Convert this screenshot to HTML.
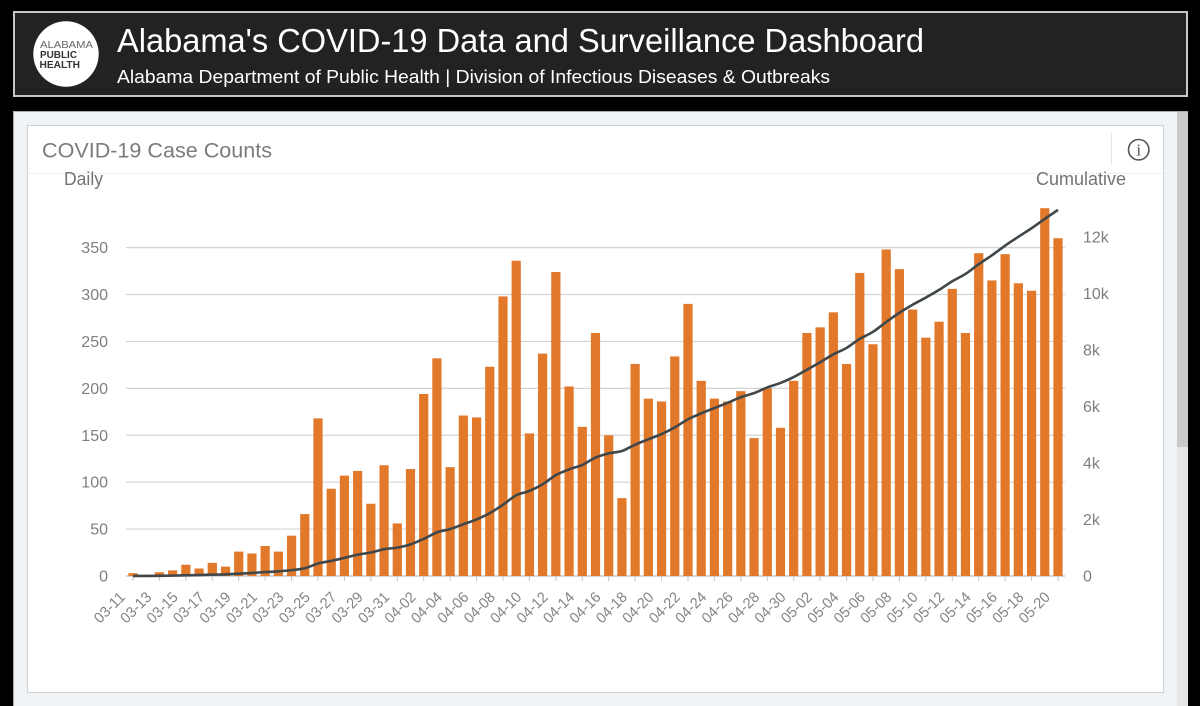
<!DOCTYPE html>
<html lang="en">
<head>
<meta charset="utf-8">
<title>Alabama's COVID-19 Data and Surveillance Dashboard</title>
<style>
html,body{margin:0;padding:0;background:#000;width:1200px;height:706px;overflow:hidden;font-family:"Liberation Sans",sans-serif}
.abs{position:absolute;box-sizing:border-box}
svg text{font-family:"Liberation Sans",sans-serif}
</style>
</head>
<body>
<div class="abs" style="left:13px;top:11px;width:1175px;height:86px;background:#222;border:2px solid #c4c8c8"></div>
<div class="abs" style="left:13px;top:111px;width:1175px;height:595px;background:#eff3f6;border-top:1px solid #aaa;border-left:1px solid #aaa"></div>
<div class="abs" style="left:1177px;top:112px;width:11px;height:594px;background:#e6e6e6"></div>
<div class="abs" style="left:1177px;top:112px;width:11px;height:335px;background:#c9c9c9"></div>
<div class="abs" style="left:27px;top:125px;width:1137px;height:568px;background:#fff;border:1px solid #ccd0d2"></div>
<div class="abs" style="left:28px;top:173px;width:1135px;height:1px;background:#eef0f1"></div>
<div class="abs" style="left:1111px;top:133px;width:1px;height:32px;background:#e6e6e6"></div>

<svg id="chart" class="abs" style="left:0;top:0" width="1200" height="706" viewBox="0 0 1200 706" xmlns="http://www.w3.org/2000/svg">
  <g>
    <circle cx="66" cy="54" r="32.7" fill="#fff"/>
    <text x="40" y="48" font-size="10.5" fill="#666" textLength="53" lengthAdjust="spacingAndGlyphs">ALABAMA</text>
    <text x="40" y="58" font-size="10.5" font-weight="700" fill="#333" textLength="37" lengthAdjust="spacingAndGlyphs">PUBLIC</text>
    <text x="39.5" y="68" font-size="10.5" font-weight="700" fill="#333" textLength="40.5" lengthAdjust="spacingAndGlyphs">HEALTH</text>
  </g>
  <text x="117" y="52" font-size="33" fill="#fff" textLength="807" lengthAdjust="spacingAndGlyphs">Alabama's COVID-19 Data and Surveillance Dashboard</text>
  <text x="117" y="83" font-size="18.5" fill="#fff" textLength="713" lengthAdjust="spacingAndGlyphs">Alabama Department of Public Health | Division of Infectious Diseases &amp; Outbreaks</text>
  <text x="42" y="157.5" font-size="21.5" fill="#7c7c7c" textLength="230" lengthAdjust="spacingAndGlyphs">COVID-19 Case Counts</text>
  <g>
    <circle cx="1138.7" cy="149.7" r="10.2" fill="none" stroke="#555" stroke-width="1.6"/>
    <text x="1138.7" y="155.5" font-size="17" fill="#555" text-anchor="middle" style="font-family:'Liberation Serif',serif">i</text>
  </g>
  <text x="64" y="185" font-size="18" fill="#737373" textLength="39" lengthAdjust="spacingAndGlyphs">Daily</text>
  <text x="1036" y="185" font-size="18" fill="#737373" textLength="90" lengthAdjust="spacingAndGlyphs">Cumulative</text>
  <g id="grid"></g>
  <g id="bars"></g>
  <g id="axis"></g>
  <g id="line"></g>
</svg>

<script>
const dates = ["03-11","03-12","03-13","03-14","03-15","03-16","03-17","03-18","03-19","03-20","03-21","03-22","03-23","03-24","03-25","03-26","03-27","03-28","03-29","03-30","03-31","04-01","04-02","04-03","04-04","04-05","04-06","04-07","04-08","04-09","04-10","04-11","04-12","04-13","04-14","04-15","04-16","04-17","04-18","04-19","04-20","04-21","04-22","04-23","04-24","04-25","04-26","04-27","04-28","04-29","04-30","05-01","05-02","05-03","05-04","05-05","05-06","05-07","05-08","05-09","05-10","05-11","05-12","05-13","05-14","05-15","05-16","05-17","05-18","05-19","05-20"];
const dailyCases = [3,0,4,6,12,8,14,10,26,24,32,26,43,66,168,93,107,112,77,118,56,114,194,232,116,171,169,223,298,336,152,237,324,202,159,259,150,83,226,189,186,234,290,208,189,186,197,147,200,158,208,259,265,281,226,323,247,348,327,284,254,271,306,259,344,315,343,312,304,392,360];
const cumulativeCases = [3,3,7,13,25,33,47,57,83,107,139,165,208,274,442,535,642,754,831,949,1005,1119,1313,1545,1661,1832,2001,2224,2522,2858,3010,3247,3571,3773,3932,4191,4341,4424,4650,4839,5025,5259,5549,5757,5946,6132,6329,6476,6676,6834,7042,7301,7566,7847,8073,8396,8643,8991,9318,9602,9856,10127,10433,10692,11036,11351,11694,12006,12310,12640,12960];
const leftTicks = [0,50,100,150,200,250,300,350];
const rightTicks = [0,2000,4000,6000,8000,10000,12000];
const rightTickLabels = ["0","2k","4k","6k","8k","10k","12k"];

const SVGNS = "http://www.w3.org/2000/svg";
const baseY = 576, firstX = 133, stepX = 13.214;
function xScale(i){ return firstX + i * stepX; }
function yLeft(v){ return baseY - v * (328.4 / 350); }
function yRight(v){ return baseY - v * (56.5 / 2000); }
function mk(tag, parent, attrs){
  const el = document.createElementNS(SVGNS, tag);
  for (const k in attrs) el.setAttribute(k, attrs[k]);
  parent.appendChild(el);
  return el;
}
const gridG = document.getElementById("grid");
const barsG = document.getElementById("bars");
const axisG = document.getElementById("axis");
const lineG = document.getElementById("line");

leftTicks.forEach(function(v){
  const y = yLeft(v);
  const gl = mk("line", gridG, {x1:126, x2:1065, y1:y, y2:y, stroke: v === 0 ? "#bdbdbd" : "#d4d4d4", "stroke-width":1.2});
  
  
  const t = mk("text", gridG, {x:108, y:y + 5.5, "font-size":16, fill:"#7e7e7e", "text-anchor":"end"});
  t.textContent = String(v);
  
  
});
rightTicks.forEach(function(v, i){
  const t = mk("text", gridG, {x:1083, y:yRight(v) + 5.5, "font-size":16, fill:"#7e7e7e"});
  t.textContent = rightTickLabels[i];
  
  
});
dailyCases.forEach(function(v, i){
  const y = yLeft(v);
  const b = mk("rect", barsG, {x:xScale(i) - 4.6, y:y, width:9.2, height:baseY - y, fill:"#e2782a"});
  
  
});
dates.forEach(function(d, i){
  if (i % 2 !== 0) return;
  const x = xScale(i);
  const tk = mk("line", axisG, {x1:x, x2:x, y1:baseY, y2:baseY + 5, stroke:"#c4c4c4", "stroke-width":1});
  
  
  const lx = x - 7;
  const t = mk("text", axisG, {x:lx, y:598, "font-size":15, fill:"#848484", "text-anchor":"end", transform:"rotate(-45 " + lx + " 598)", textLength:37, lengthAdjust:"spacingAndGlyphs"});
  t.textContent = d;
  
  
});
const pts = cumulativeCases.map(function(v, i){ return [xScale(i), yRight(v)]; });
let path = "M" + pts[0][0] + " " + pts[0][1];
for (let i = 0; i < pts.length - 1; i++){
  const p0 = pts[Math.max(i - 1, 0)], p1 = pts[i], p2 = pts[i + 1], p3 = pts[Math.min(i + 2, pts.length - 1)];
  const c1x = p1[0] + (p2[0] - p0[0]) / 6, c1y = p1[1] + (p2[1] - p0[1]) / 6;
  const c2x = p2[0] - (p3[0] - p1[0]) / 6, c2y = p2[1] - (p3[1] - p1[1]) / 6;
  path += " C" + c1x + " " + c1y + " " + c2x + " " + c2y + " " + p2[0] + " " + p2[1];
}
const cumLine = mk("path", lineG, {d:path, fill:"none", stroke:"#40474a", "stroke-width":2.6, "stroke-linejoin":"round"});


</script>
</body>
</html>
